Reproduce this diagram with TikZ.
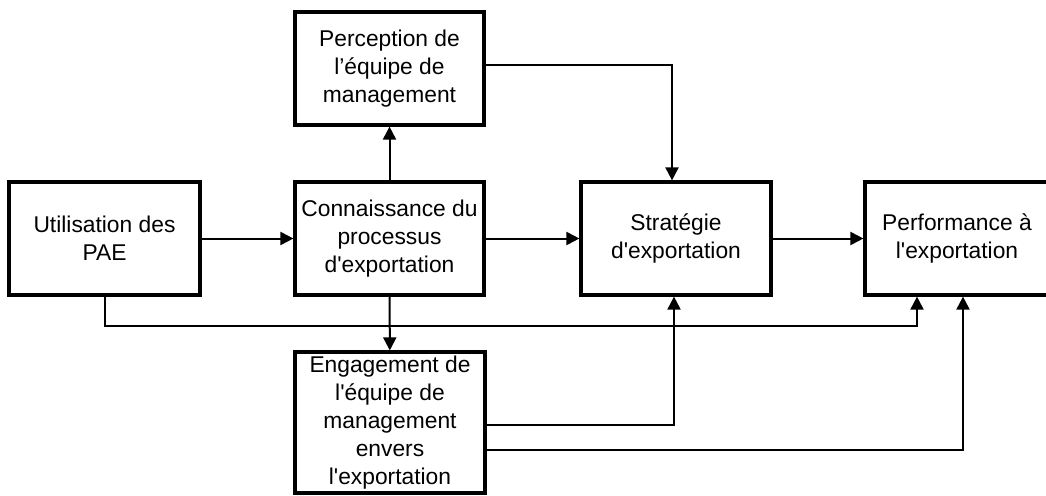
\documentclass[tikz,border=0pt]{standalone}
\usepackage{fontspec}
\setmainfont{Liberation Sans}[Ligatures=TeXOff]
\usetikzlibrary{arrows.meta, positioning, calc}
\tikzset{
  bloc/.style={
    rectangle, draw=black, fill=white, line width=3.2pt,
    minimum width=190pt, minimum height=113pt,
    align=center, font=\fontsize{22.8}{28}\selectfont, inner sep=0pt,
  },
  arrow/.style={
    -{Triangle[length=13pt, width=13pt]}, line width=2pt, draw=black,
  },
}

\begin{document}
\begin{tikzpicture}[x=1pt, y=-1pt]
  \useasboundingbox (0,0) rectangle (1046,495);

  % Main row
  \node[bloc, minimum width=191pt] (pae) at (104.5, 238.5) {Utilisation des\\PAE};
  \node[bloc, minimum width=189pt] (conn) at (389.5, 238.5) {Connaissance du\\processus\\d'exportation};
  \node[bloc] (strat) at (676, 238.5) {Stratégie\\d'exportation};
  \node[bloc, minimum width=184pt] (perf) at (957, 238.5) {Performance à\\l'exportation};

  % Above and below
  \node[bloc, minimum width=189pt] (perc) at (389.5, 68.5) {Perception de\\l’équipe de\\management};
  \node[bloc, minimum height=141pt] (eng) at (390, 422.5)
    {Engagement de\\l'équipe de\\management\\envers\\l'exportation};

  \draw[arrow] (pae) -- (conn);
  \draw[arrow] (conn) -- (strat);
  \draw[arrow] (strat) -- (perf);
  \draw[arrow] (conn) -- (perc);
  \draw[arrow] (conn) -- (eng);

  \draw[arrow] ([yshift=3.5pt]perc.east) -| ([xshift=-4pt]strat.north);
  \draw[arrow] (pae.south) -- ++(0,29) -| ([xshift=-40pt]perf.south);
  \draw[arrow] ([yshift=-2.5pt]eng.east) -| ([xshift=-2pt]strat.south);
  \draw[arrow] ([yshift=-27.5pt]eng.east) -| ([xshift=6pt]perf.south);

\end{tikzpicture}
\end{document}
